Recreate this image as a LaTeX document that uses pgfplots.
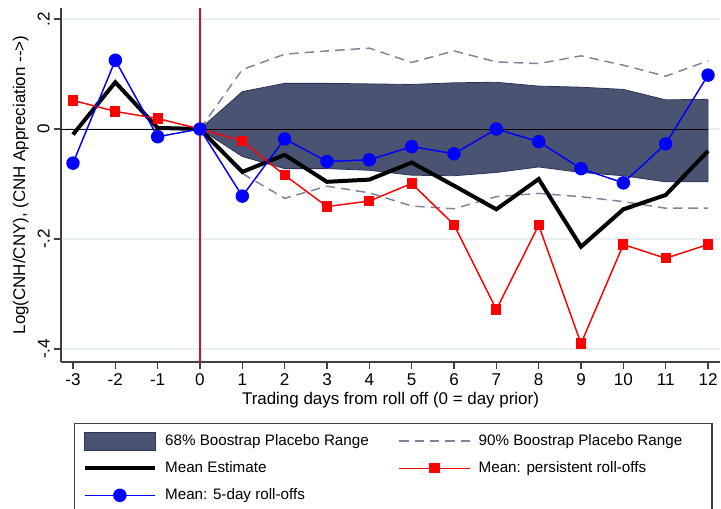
\documentclass[border=0pt]{standalone}
\usepackage{fontspec}
\setmainfont{Liberation Sans}
\usepackage{pgfplots}
\pgfplotsset{compat=1.18}
\definecolor{bandfill}{HTML}{4A5472}
\definecolor{bandedge}{HTML}{2A3459}
\definecolor{dashc}{HTML}{7A849C}
\definecolor{vred}{HTML}{D0103A}
\definecolor{gridc}{HTML}{E6EFF1}
\definecolor{axc}{HTML}{404040}
\pgfplotsset{
  mylegline/.style={legend image code/.code={\draw[mark repeat=2,mark phase=2,##1] plot coordinates {(0pt,0pt) (26.5pt,0pt) (53pt,0pt)};}},
  mylegarea/.style={legend image code/.code={\draw[##1] (0pt,-6.8pt) rectangle (53pt,6.8pt);}},
}
\newcommand{\lt}[1]{\makebox[167pt][l]{#1}}
\begin{document}
\begin{tikzpicture}
\path[use as bounding box] (-45.75pt,-109.5pt) rectangle (495pt,271.5pt);
\begin{axis}[
  scale only axis, width=494.25pt, height=265.5pt,
  at={(0pt,0pt)}, anchor=south west,
  xmin=-3.283, xmax=12.283, ymin=-0.4236, ymax=0.22,
  axis x line*=bottom, axis y line*=left,
  axis line style={-, draw=axc, line width=0.9pt},
  tick style={draw=axc, line width=0.9pt},
  tick align=outside, major tick length=5pt,
  xtick={-3,-2,-1,0,1,2,3,4,5,6,7,8,9,10,11,12},
  xticklabels={-3,-2,-1,0,1,2,3,4,5,6,7,8,9,10,11,12},
  ytick={-0.4,-0.2,0,0.2},
  yticklabels={-.4,-.2,0,.2},
  ymajorgrids, grid style={draw=gridc, line width=1pt},
  ticklabel style={font=\fontsize{12.8}{15}\selectfont},
  yticklabel style={rotate=90, anchor=south},
  xlabel={Trading days from roll off (0 = day prior)},
  ylabel={Log(CNH/CNY), (CNH Appreciation {-}{-}>)},
  label style={font=\fontsize{12.7}{15}\selectfont},
  xlabel style={at={(axis description cs:0.5,-0.107)}, anchor=center},
  ylabel style={at={(axis description cs:-0.061,0.5)}, anchor=center},
  legend columns=2,
  legend cell align=left,
  legend style={at={(axis description cs:0.0197,-0.1723)}, anchor=north west,
    draw=axc, line width=0.8pt, font=\fontsize{11.4}{13}\selectfont,
    inner xsep=6pt, inner ysep=6pt, row sep=6.5pt,
    /tikz/every odd column/.append style={column sep=4pt},
    /tikz/every even column/.append style={column sep=6pt}},
]
% 68% band
\addplot[mylegarea, fill=bandfill, draw=bandedge, line width=0.6pt] coordinates {
(0,0) (1,0.068) (2,0.083) (3,0.083) (4,0.082) (5,0.081) (6,0.084) (7,0.085) (8,0.078) (9,0.076) (10,0.072) (11,0.053) (12,0.054)
(12,-0.096) (11,-0.096) (10,-0.085) (9,-0.079) (8,-0.069) (7,-0.079) (6,-0.085) (5,-0.084) (4,-0.075) (3,-0.072) (2,-0.072) (1,-0.050)
} -- cycle;
\addlegendentry{\lt{68\% Boostrap Placebo Range}}
% 90% dashed
\addplot[mylegline, dashc, line width=1.1pt, dash pattern=on 7pt off 4.5pt] coordinates {
(0,0) (1,0.108) (2,0.136) (3,0.142) (4,0.147) (5,0.121) (6,0.142) (7,0.122) (8,0.119) (9,0.133) (10,0.116) (11,0.096) (12,0.124)};
\addlegendentry{\lt{90\% Boostrap Placebo Range}}
\addplot[forget plot, dashc, line width=1.1pt, dash pattern=on 7pt off 4.5pt] coordinates {
(0,0) (1,-0.081) (2,-0.126) (3,-0.104) (4,-0.116) (5,-0.140) (6,-0.145) (7,-0.123) (8,-0.117) (9,-0.123) (10,-0.132) (11,-0.144) (12,-0.144)};
% zero line and vertical line
\addplot[forget plot, black, line width=0.6pt] coordinates {(-3.283,0) (12,0)};
\addplot[forget plot, vred, line width=1pt] coordinates {(0,-0.4236) (0,0.22)};
% mean estimate
\addplot[mylegline, black, line width=3pt] coordinates {
(-3,-0.010) (-2,0.085) (-1,0.002) (0,0) (1,-0.078) (2,-0.047) (3,-0.096) (4,-0.092) (5,-0.061) (6,-0.103) (7,-0.146) (8,-0.091) (9,-0.214) (10,-0.146) (11,-0.120) (12,-0.040)};
\addlegendentry{\lt{Mean Estimate}}
% persistent
\addplot[mylegline, red, line width=1.1pt, mark=square*, mark size=3.3pt, mark options={solid, fill=red}] coordinates {
(-3,0.052) (-2,0.032) (-1,0.019) (0,0) (1,-0.022) (2,-0.084) (3,-0.141) (4,-0.131) (5,-0.099) (6,-0.174) (7,-0.328) (8,-0.175) (9,-0.390) (10,-0.210) (11,-0.235) (12,-0.210)};
\addlegendentry{\lt{Mean: persistent roll-offs}}
% 5-day
\addplot[mylegline, blue, line width=1.1pt, mark=*, mark size=4.5pt, mark options={solid, fill=blue}] coordinates {
(-3,-0.062) (-2,0.125) (-1,-0.014) (0,0) (1,-0.122) (2,-0.018) (3,-0.059) (4,-0.056) (5,-0.032) (6,-0.045) (7,0.0) (8,-0.023) (9,-0.072) (10,-0.098) (11,-0.027) (12,0.098)};
\addlegendentry{\lt{Mean: 5-day roll-offs}}
\end{axis}
\end{tikzpicture}
\end{document}
